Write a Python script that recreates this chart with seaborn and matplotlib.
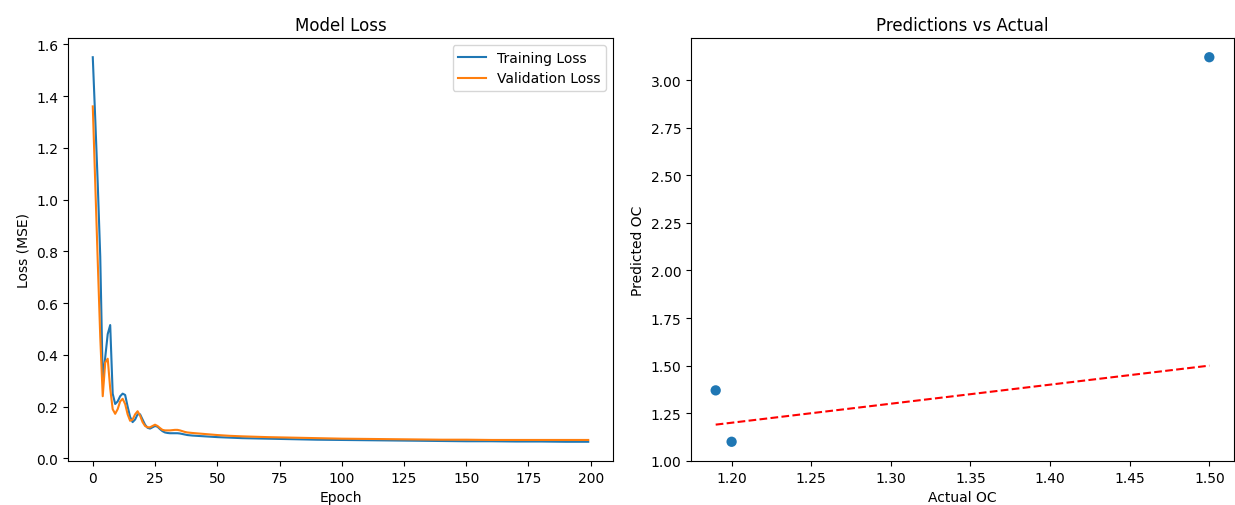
import matplotlib
matplotlib.use("Agg")
import matplotlib.pyplot as plt
import seaborn as sns
import pandas as pd

# ---- data ----
epochs = list(range(0, 41)) + [45, 50, 55, 60, 70, 80, 90, 100, 110, 120, 130, 140, 150, 160, 170, 180, 190, 199]

train_loss = [1.55, 1.31, 1.06, 0.78, 0.30, 0.39, 0.48, 0.515, 0.25, 0.21, 0.22, 0.24, 0.25, 0.245, 0.20,
              0.16, 0.14, 0.15, 0.17, 0.17, 0.15, 0.13, 0.118, 0.115, 0.12, 0.125, 0.122, 0.113, 0.105, 0.100,
              0.098, 0.097, 0.097, 0.097, 0.097, 0.096, 0.094, 0.092, 0.090, 0.089, 0.088,
              0.085, 0.082, 0.080, 0.078, 0.076, 0.074, 0.072, 0.071, 0.070, 0.069, 0.068, 0.067, 0.066,
              0.066, 0.065, 0.065, 0.064, 0.064]

val_loss = [1.36, 1.06, 0.76, 0.47, 0.24, 0.37, 0.385, 0.27, 0.19, 0.172, 0.19, 0.22, 0.23, 0.21, 0.17,
            0.145, 0.15, 0.17, 0.182, 0.165, 0.14, 0.125, 0.12, 0.12, 0.125, 0.13, 0.125, 0.117, 0.11, 0.108,
            0.108, 0.108, 0.109, 0.110, 0.110, 0.108, 0.105, 0.102, 0.100, 0.099, 0.098,
            0.094, 0.090, 0.087, 0.085, 0.082, 0.080, 0.078, 0.076, 0.075, 0.074, 0.073, 0.072, 0.072,
            0.071, 0.071, 0.071, 0.071, 0.071]

actual_oc = [1.19, 1.20, 1.50]
predicted_oc = [1.37, 1.10, 3.12]

loss_df = pd.DataFrame({"Epoch": epochs, "Training Loss": train_loss, "Validation Loss": val_loss})
pred_df = pd.DataFrame({"Actual OC": actual_oc, "Predicted OC": predicted_oc})

plt.rcParams['font.family'] = ['DejaVu Sans']

fig = plt.figure(figsize=(12.35, 5.06), dpi=100)
W, H = 1235, 506
ax1 = fig.add_axes([68 / W, (H - 462) / H, (613 - 68) / W, (462 - 39) / H])
ax2 = fig.add_axes([691 / W, (H - 462) / H, (1234 - 691) / W, (462 - 39) / H])

sns.lineplot(data=loss_df, x="Epoch", y="Training Loss", ax=ax1, color="#1f77b4",
             label="Training Loss", linewidth=1.5)
sns.lineplot(data=loss_df, x="Epoch", y="Validation Loss", ax=ax1, color="#ff7f0e",
             label="Validation Loss", linewidth=1.5)
ax1.set_title("Model Loss", fontsize=12)
ax1.set_xlabel("Epoch")
ax1.set_ylabel("Loss (MSE)")
ax1.legend(loc="upper right")

sns.scatterplot(data=pred_df, x="Actual OC", y="Predicted OC", ax=ax2, color="#1f77b4",
                s=55, edgecolor="none")
lo, hi = min(actual_oc), max(actual_oc)
sns.lineplot(x=[lo, hi], y=[lo, hi], ax=ax2, color="red", linestyle="--", linewidth=1.5)
ax2.set_title("Predictions vs Actual", fontsize=12)
ax2.set_xlabel("Actual OC")
ax2.set_ylabel("Predicted OC")

fig.savefig("out.png", dpi=100)
